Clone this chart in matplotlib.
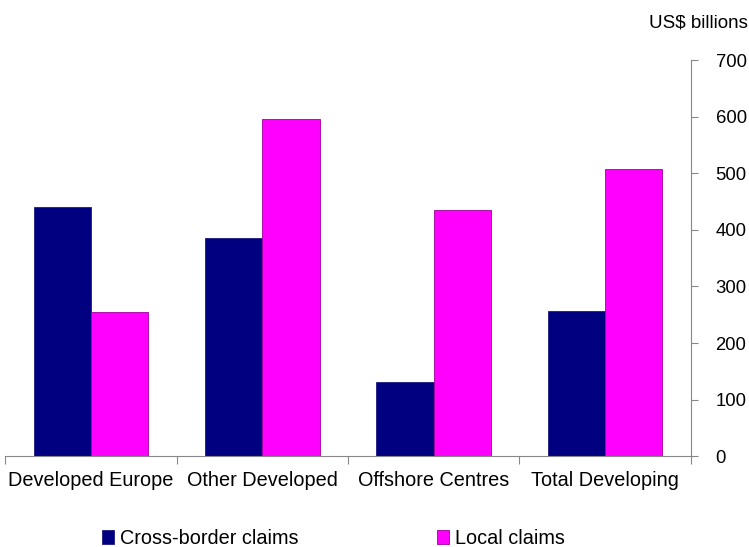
import matplotlib.pyplot as plt
import numpy as np

plt.rcParams['font.family'] = ['Liberation Sans', 'DejaVu Sans']

categories = ['Developed Europe', 'Other Developed', 'Offshore Centres', 'Total Developing']
cross_border = [441, 386, 131, 257]
local = [255, 596, 436, 507]

fig = plt.figure(figsize=(7.49, 5.47), dpi=100)
ax = fig.add_axes([0.007, 0.166, 0.915, 0.724])

x = np.arange(len(categories))
w = 0.335
b1 = ax.bar(x - w / 2, cross_border, w, color='#000080', edgecolor='#1a1a80', linewidth=0.6,
            label='Cross-border claims')
b2 = ax.bar(x + w / 2, local, w, color='#ff00ff', edgecolor='#a000a0', linewidth=0.6,
            label='Local claims')

ax.set_xlim(-0.5, len(categories) - 0.5)
ax.set_ylim(0, 700)
ax.set_yticks(range(0, 701, 100))
ax.yaxis.tick_right()
ax.set_xticks(np.arange(len(categories) + 1) - 0.5)
ax.set_xticklabels([])
ax.set_xticks(x, minor=True)
ax.set_xticklabels(categories, minor=True, fontsize=14.3)
ax.tick_params(axis='x', which='minor', length=0, pad=11)
ax.tick_params(axis='x', which='major', length=6, direction='out', color='#888888')
ax.tick_params(axis='y', length=5, direction='out', color='#888888', labelsize=13.3, pad=13)

for s in ['top', 'left']:
    ax.spines[s].set_visible(False)
for s in ['bottom', 'right']:
    ax.spines[s].set_color('#888888')

fig.text(0.998, 0.958, 'US$ billions', ha='right', va='center', fontsize=13.5)

fig.legend(handles=[b1, b2], loc='center', bbox_to_anchor=(0.445, 0.015), ncol=2, frameon=False,
           fontsize=14.3, handlelength=0.6, handleheight=0.7, handletextpad=0.3, columnspacing=7.0)

plt.savefig('out.png', dpi=100)
